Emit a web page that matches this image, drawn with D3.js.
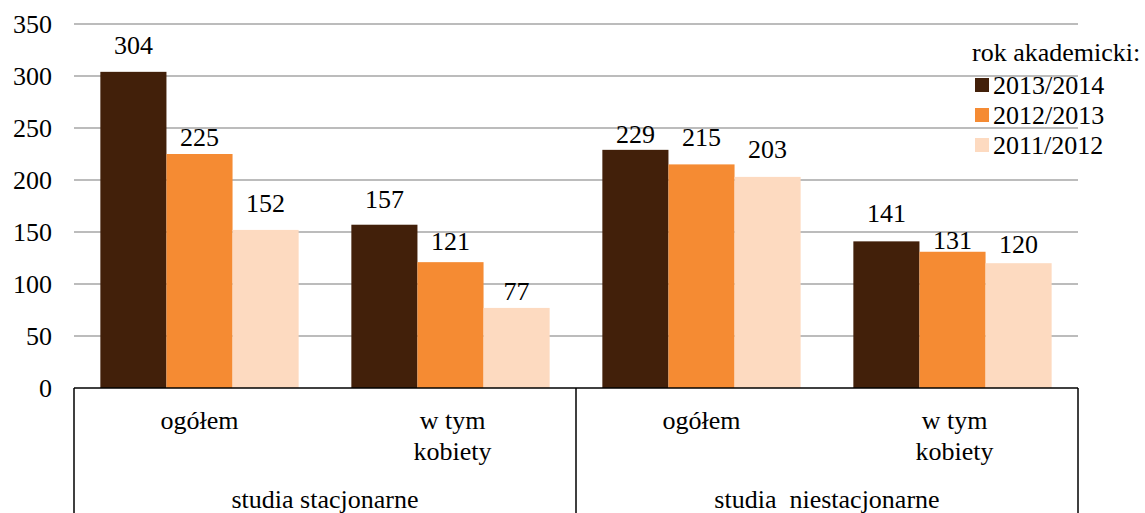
<!DOCTYPE html>
<meta charset="utf-8">
<script src="https://d3js.org/d3.v7.min.js"></script>
<style>
body { margin: 0; background: white; }
</style>
<div id="chart"></div>
<script>
// Data
var categories = ["ss_ogolem", "ss_kobiety", "sn_ogolem", "sn_kobiety"];
var catLabels = [["ogółem"], ["w tym", "kobiety"], ["ogółem"], ["w tym", "kobiety"]];
var groups = ["studia stacjonarne", "studia\u00a0 niestacjonarne"];
var series = ["2013/2014", "2012/2013", "2011/2012"];
var v2013 = [304, 157, 229, 141];
var v2012 = [225, 121, 215, 131];
var v2011 = [152, 77, 203, 120];
var colors = ["#42200A", "#F58B33", "#FDDAC0"];
var yTicks = [0, 50, 100, 150, 200, 250, 300, 350];

var values = [v2013, v2012, v2011];

// how far each value label sits above its bar (the original nudges them by hand)
var labelLift = [[18, 17, 7, 19], [8, 12, 18, 3], [18, 8, 19, 10]];

var width = 1145, height = 513;
var mLeft = 74, mRight = 1078, mTop = 24, mBottom = 388;
var fs = "26px";
var ff = "'Liberation Serif'";

var svg = d3.select("#chart").append("svg")
  .attr("width", width)
  .attr("height", height);

// helper so every label gets the same font
function label(sel) {
  return sel.style("font-family", ff).style("font-size", fs).attr("fill", "#000");
}

var y = d3.scaleLinear().domain([0, 350]).range([mBottom, mTop]);

var x0 = d3.scaleBand()
  .domain(categories)
  .range([mLeft, mRight])
  .paddingInner(0.21)
  .paddingOuter(0.105);

var x1 = d3.scaleBand()
  .domain(series)
  .range([0, x0.bandwidth()]);

// gridlines
svg.append("g")
  .selectAll("line")
  .data(yTicks.slice(1))
  .enter().append("line")
    .attr("x1", mLeft)
    .attr("x2", mRight)
    .attr("y1", function(d) { return y(d); })
    .attr("y2", function(d) { return y(d); })
    .attr("stroke", "#a6a6a6")
    .attr("stroke-width", 1.5);

// y tick labels
svg.append("g")
  .selectAll("text")
  .data(yTicks)
  .enter().append("text")
    .attr("x", 52)
    .attr("y", function(d) { return y(d); })
    .attr("dy", "0.33em")
    .attr("text-anchor", "end")
    .call(label)
    .text(function(d) { return d; });

// bars
series.forEach(function(s, i) {
  var g = svg.append("g");
  g.selectAll("rect")
    .data(values[i])
    .enter().append("rect")
      .attr("x", function(d, j) { return x0(categories[j]) + x1(s); })
      .attr("y", function(d) { return y(d); })
      .attr("width", x1.bandwidth())
      .attr("height", function(d) { return mBottom - y(d); })
      .attr("fill", colors[i]);
  g.selectAll("text")
    .data(values[i])
    .enter().append("text")
      .attr("x", function(d, j) { return x0(categories[j]) + x1(s) + x1.bandwidth() / 2; })
      .attr("y", function(d, j) { return y(d) - labelLift[i][j]; })
      .attr("text-anchor", "middle")
      .call(label)
      .text(function(d) { return d; });
});

// category axis box
var step = x0.step();
var midX = mLeft + 2 * step;
svg.append("line")
  .attr("x1", mLeft).attr("x2", mRight)
  .attr("y1", mBottom).attr("y2", mBottom)
  .attr("stroke", "#000").attr("stroke-width", 1.5);
[mLeft, midX, mRight].forEach(function(xx) {
  svg.append("line")
    .attr("x1", xx).attr("x2", xx)
    .attr("y1", mBottom).attr("y2", height)
    .attr("stroke", "#000").attr("stroke-width", 1.5);
});

// category labels
categories.forEach(function(c, j) {
  var cx = x0(c) + x0.bandwidth() / 2;
  var t = svg.append("text")
    .attr("text-anchor", "middle")
    .call(label);
  catLabels[j].forEach(function(line, k) {
    t.append("tspan")
      .attr("x", cx + (catLabels[j].length > 1 ? 2 : 0))
      .attr("y", 429 + k * 31)
      .text(line);
  });
});

// group labels
groups.forEach(function(gname, k) {
  svg.append("text")
    .attr("x", mLeft + step * (2 * k + 1))
    .attr("y", 508)
    .attr("text-anchor", "middle")
    .call(label)
    .text(gname);
});

// legend
var legend = svg.append("g");
legend.append("text")
  .attr("x", 972)
  .attr("y", 52)
  .attr("dy", "0.33em")
  .call(label)
  .text("rok akademicki:");
series.forEach(function(s, i) {
  var ly = 85 + i * 30;
  legend.append("rect")
    .attr("x", 975).attr("y", ly - 7)
    .attr("width", 14).attr("height", 14)
    .attr("fill", colors[i]);
  legend.append("text")
    .attr("x", 993).attr("y", ly)
    .attr("dy", "0.33em")
    .call(label)
    .text(s);
});
</script>
